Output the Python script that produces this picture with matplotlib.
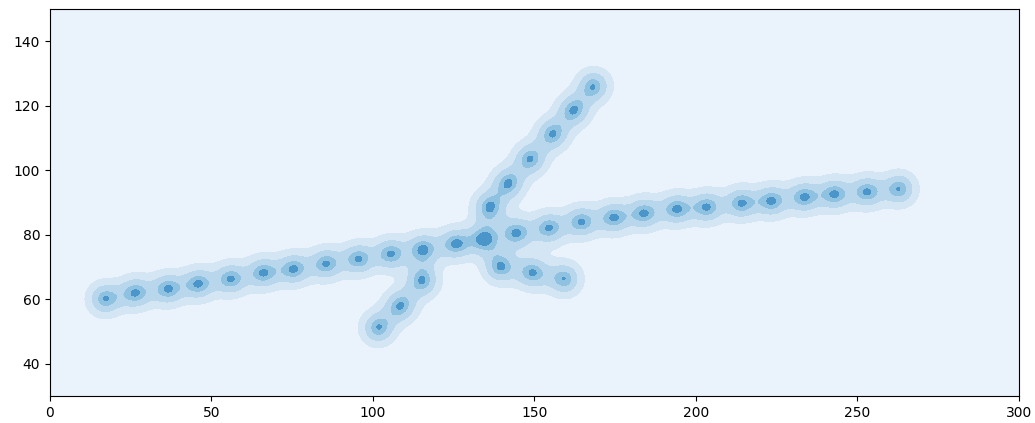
import matplotlib
matplotlib.use('Agg')
import matplotlib.pyplot as plt
import numpy as np

# main line (left to right)
line_x = [17, 26.5, 36.5, 46, 56, 66, 75.5, 85.5, 95.5, 105.5, 115.5, 125.5,
          134.5, 144.5, 154.5, 164.5, 174.5, 184, 194, 203.5, 214, 223.5,
          233.5, 243, 253, 263]
line_y = [60.1, 62.0, 63.2, 64.8, 66.3, 68.2, 69.4, 71.0, 72.5, 74.1, 75.6, 77.2,
          78.7, 80.6, 82.1, 84.0, 85.3, 86.7, 88.0, 88.6, 89.8, 90.5,
          91.7, 92.6, 93.3, 94.2]

# upper branch
up_x = [136.0, 141.9, 148.7, 155.6, 162.1, 168.3]
up_y = [88.6, 96.0, 103.5, 111.2, 118.6, 126.1]

# lower left branch
ll_x = [115.3, 108.5, 101.6]
ll_y = [65.7, 58.0, 51.1]

# lower right branch
lr_x = [139.4, 149.4, 159.3]
lr_y = [70.0, 68.2, 66.3]

x = np.array(line_x + up_x + ll_x + lr_x)
y = np.array(line_y + up_y + ll_y + lr_y)

# gaussian kde (isotropic), in units of a single kernel's peak
bw = 3.7
gx = np.linspace(0, 300, 900)
gy = np.linspace(30, 150, 360)
X, Y = np.meshgrid(gx, gy)
Z = np.zeros_like(X)
for px, py in zip(x, y):
    Z += np.exp(-((X - px) ** 2 + (Y - py) ** 2) / (2 * bw ** 2))

levels = [0, 0.25, 0.58, 0.88, 1.02, max(Z.max(), 1.1) + 0.01]
colors = ['#eaf2fb', '#d4e5f4', '#b9d7ec', '#8fc1e1', '#4a96cb']

fig = plt.figure(figsize=(10.35, 4.23), dpi=100)
ax = fig.add_axes([0.0483, 0.0638, 0.9362, 0.9149])
ax.contourf(X, Y, Z, levels=levels, colors=colors)
ax.set_xlim(0, 300)
ax.set_ylim(30, 150)
ax.set_yticks([40, 60, 80, 100, 120, 140])
fig.savefig('out.png', dpi=100)
